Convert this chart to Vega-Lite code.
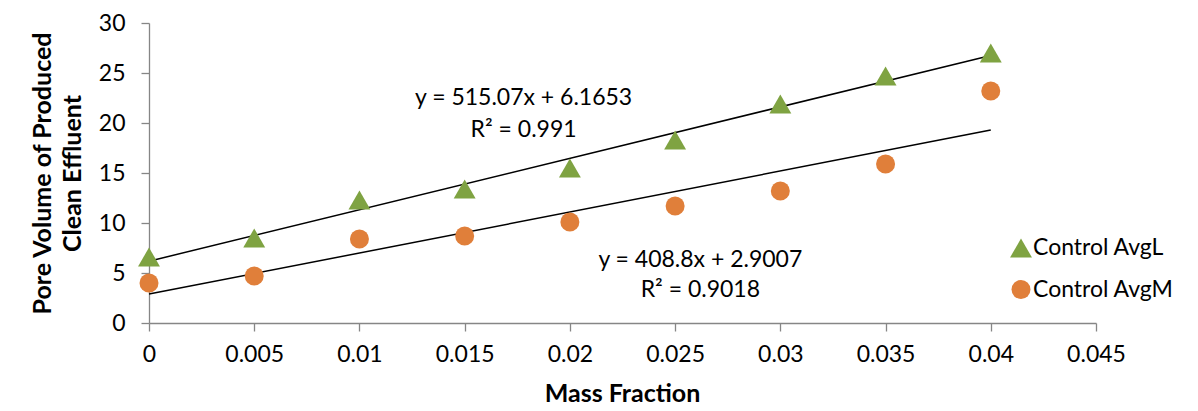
{
  "$schema": "https://vega.github.io/schema/vega-lite/v6.json",
  "width": 947,
  "height": 300,
  "autosize": {"type": "none"},
  "padding": {"left": 149, "top": 23, "right": 102, "bottom": 88},
  "background": "white",
  "config": {
    "font": "Lato",
    "view": {"stroke": null},
    "axis": {
      "grid": false,
      "domainColor": "#868686",
      "tickColor": "#868686",
      "domainWidth": 1.3,
      "tickWidth": 1.3,
      "labelColor": "black",
      "titleColor": "black",
      "labelFont": "Lato",
      "titleFont": "Lato",
      "labelFontSize": 23,
      "titleFontSize": 25,
      "titleFontWeight": "bold",
      "labelFlush": false
    }
  },
  "datasets": {
    "points": [
      {"x": 0, "y": 6.6, "series": "Control AvgL"},
      {"x": 0.005, "y": 8.5, "series": "Control AvgL"},
      {"x": 0.01, "y": 12.3, "series": "Control AvgL"},
      {"x": 0.015, "y": 13.4, "series": "Control AvgL"},
      {"x": 0.02, "y": 15.5, "series": "Control AvgL"},
      {"x": 0.025, "y": 18.3, "series": "Control AvgL"},
      {"x": 0.03, "y": 21.9, "series": "Control AvgL"},
      {"x": 0.035, "y": 24.7, "series": "Control AvgL"},
      {"x": 0.04, "y": 27.0, "series": "Control AvgL"},
      {"x": 0, "y": 4.0, "series": "Control AvgM"},
      {"x": 0.005, "y": 4.7, "series": "Control AvgM"},
      {"x": 0.01, "y": 8.4, "series": "Control AvgM"},
      {"x": 0.015, "y": 8.7, "series": "Control AvgM"},
      {"x": 0.02, "y": 10.1, "series": "Control AvgM"},
      {"x": 0.025, "y": 11.7, "series": "Control AvgM"},
      {"x": 0.03, "y": 13.2, "series": "Control AvgM"},
      {"x": 0.035, "y": 15.9, "series": "Control AvgM"},
      {"x": 0.04, "y": 23.2, "series": "Control AvgM"}
    ],
    "labels": [
      {"x": 0.0178, "y": 22.5, "text": "y = 515.07x + 6.1653"},
      {"x": 0.0178, "y": 19.3, "text": "R² = 0.991"},
      {"x": 0.0262, "y": 6.3, "text": "y = 408.8x + 2.9007"},
      {"x": 0.0262, "y": 3.3, "text": "R² = 0.9018"}
    ]
  },
  "layer": [
    {
      "data": {"name": "points"},
      "transform": [{"regression": "y", "on": "x", "groupby": ["series"]}],
      "mark": {"type": "line", "color": "black", "strokeWidth": 1.5},
      "encoding": {
        "x": {"field": "x", "type": "quantitative", "scale": {"domain": [0, 0.045], "nice": false}},
        "y": {"field": "y", "type": "quantitative", "scale": {"domain": [0, 30], "nice": false}},
        "detail": {"field": "series"}
      }
    },
    {
      "data": {"name": "points"},
      "mark": {"type": "point", "filled": true, "opacity": 1},
      "encoding": {
        "x": {
          "field": "x",
          "type": "quantitative",
          "scale": {"domain": [0, 0.045], "nice": false},
          "axis": {
            "title": "Mass Fraction",
            "values": [0, 0.005, 0.01, 0.015, 0.02, 0.025, 0.03, 0.035, 0.04, 0.045],
            "format": "~g",
            "tickSize": 8,
            "labelPadding": 12,
            "titleBaseline": "middle",
            "titleY": 70,
            "titleX": 473
          }
        },
        "y": {
          "field": "y",
          "type": "quantitative",
          "scale": {"domain": [0, 30], "nice": false},
          "axis": {
            "title": ["Pore Volume of Produced", "Clean Effluent"],
            "values": [0, 5, 10, 15, 20, 25, 30],
            "tickSize": 8,
            "labelPadding": 16,
            "titleAngle": -90,
            "titleBaseline": "middle",
            "titleAlign": "center",
            "titleLineHeight": 30,
            "titleX": -107,
            "titleY": 150
          }
        },
        "color": {
          "field": "series",
          "type": "nominal",
          "scale": {"domain": ["Control AvgL", "Control AvgM"], "range": ["#7FA342", "#E07F3A"]},
          "legend": {
            "title": null,
            "orient": "none",
            "legendX": 860,
            "legendY": 213,
            "labelFontSize": 23,
            "labelColor": "black",
            "labelFont": "Lato",
            "symbolSize": 320,
            "rowPadding": 18,
            "labelOffset": 0
          }
        },
        "shape": {
          "field": "series",
          "type": "nominal",
          "scale": {"domain": ["Control AvgL", "Control AvgM"], "range": ["triangle-up", "circle"]}
        },
        "size": {
          "field": "series",
          "type": "nominal",
          "scale": {"domain": ["Control AvgL", "Control AvgM"], "range": [480, 361]},
          "legend": null
        }
      }
    },
    {
      "data": {"name": "labels"},
      "mark": {"type": "text", "fontSize": 23, "font": "Lato", "color": "black", "baseline": "middle", "align": "center"},
      "encoding": {
        "x": {"field": "x", "type": "quantitative"},
        "y": {"field": "y", "type": "quantitative"},
        "text": {"field": "text"}
      }
    }
  ]
}
